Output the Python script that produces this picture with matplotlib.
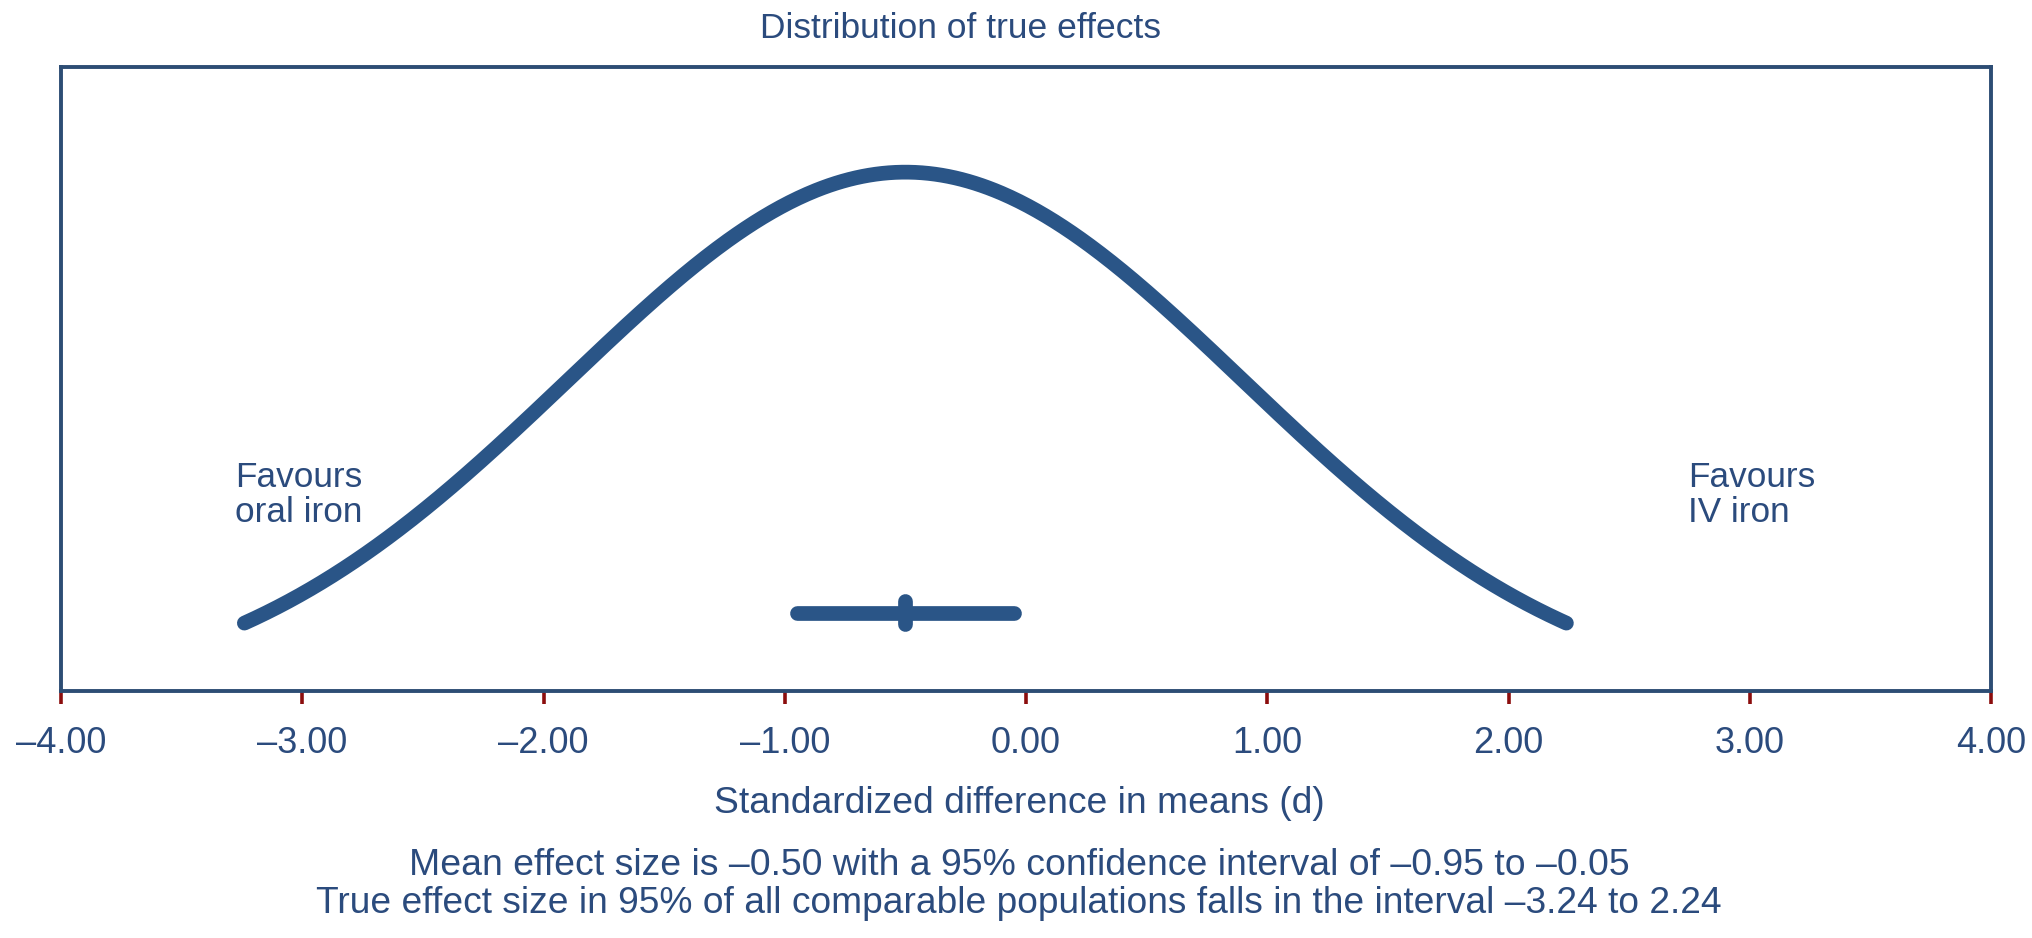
import numpy as np
import matplotlib
matplotlib.use("Agg")
import matplotlib.pyplot as plt
from matplotlib import font_manager

# ---- data ----
mean_effect = -0.50
ci_bounds = [-0.95, -0.05]          # 95% confidence interval of the mean
pi_bounds = [-3.24, 2.24]           # 95% prediction interval (true effects)
x_ticks = [-4, -3, -2, -1, 0, 1, 2, 3, 4]
x_tick_labels = ["\u20134.00", "\u20133.00", "\u20132.00", "\u20131.00", "0.00",
                 "1.00", "2.00", "3.00", "4.00"]
title_text = "Distribution of true effects"
xlabel_text = "Standardized difference in means (d)"
left_label = ["Favours", "oral iron"]
right_label = ["Favours", "IV iron"]
footnotes = ["Mean effect size is \u20130.50 with a 95% confidence interval of \u20130.95 to \u20130.05",
             "True effect size in 95% of all comparable populations falls in the interval \u20133.24 to 2.24"]

# distribution of true effects implied by the mean and the prediction interval
tau = (pi_bounds[1] - mean_effect) / 1.96
xs = np.linspace(pi_bounds[0], pi_bounds[1], 600)
dens = np.exp(-0.5 * ((xs - mean_effect) / tau) ** 2)   # peak normalised to 1

# ---- style ----
W, H, DPI = 2032, 938, 100
curve_col = "#2a5587"
text_col = "#2b4b7d"
spine_col = "#2d4d74"
tick_col = "#8b0d0d"
LW = 10.6

names = {f.name for f in font_manager.fontManager.ttflist}
base_font = "Liberation Sans" if "Liberation Sans" in names else "DejaVu Sans"
narrow_font = "Liberation Sans Narrow" if "Liberation Sans Narrow" in names else None
plt.rcParams["font.family"] = [base_font, "DejaVu Sans"]

fig = plt.figure(figsize=(W / DPI, H / DPI), dpi=DPI)
ax = fig.add_axes([61 / W, 1 - 691 / H, (1991 - 61) / W, (691 - 67) / H])

ax.plot(xs, dens, color=curve_col, lw=LW, solid_capstyle="round", zorder=3)
ci_y = 0.166
ax.plot(ci_bounds, [ci_y, ci_y], color=curve_col, lw=LW, solid_capstyle="round", zorder=3)
ax.plot([mean_effect, mean_effect], [ci_y - 0.022, ci_y + 0.022], color=curve_col, lw=LW,
        solid_capstyle="round", zorder=4)

ax.set_xlim(-4, 4)
ax.set_ylim(0.018, 1.199)
ax.set_yticks([])
ax.set_xticks(x_ticks)
ax.set_xticklabels(x_tick_labels)
ax.tick_params(axis="x", direction="out", length=9, width=2.6, color=tick_col,
               labelcolor=text_col, labelsize=26, pad=16)
for sp in ax.spines.values():
    sp.set_color(spine_col)
    sp.set_linewidth(2.8)

def fy(ypx):
    return 1 - ypx / H

def fit(t, target):
    fig.canvas.draw()
    w = t.get_window_extent(fig.canvas.get_renderer()).width
    t.set_fontsize(t.get_fontsize() * target / w)

if narrow_font:
    t_title = fig.text(961 / W, fy(38), title_text, ha="center", va="baseline",
                       color=text_col, fontsize=27, family=[narrow_font, "DejaVu Sans"])
    fit(t_title, 342)
else:
    t_title = fig.text(961 / W, fy(38), title_text, ha="center", va="baseline",
                       color=text_col, fontsize=25.5)

t_xl = fig.text(1019 / W, fy(813), xlabel_text, ha="center", va="baseline",
                color=text_col, fontsize=26)
fit(t_xl, 610)
t_f1 = fig.text(1019 / W, fy(875), footnotes[0], ha="center", va="baseline",
                color=text_col, fontsize=24)
fit(t_f1, 1218)
t_f2 = fig.text(1019 / W, fy(913), footnotes[1], ha="center", va="baseline",
                color=text_col, fontsize=24)
fit(t_f2, 1405)

for lines, xpx in ((left_label, 235), (right_label, 1688)):
    for line, ypx in zip(lines, (487, 522)):
        fig.text(xpx / W, fy(ypx), line, ha="left", va="baseline",
                 color=text_col, fontsize=25.3)

fig.savefig("out.png", dpi=DPI)
